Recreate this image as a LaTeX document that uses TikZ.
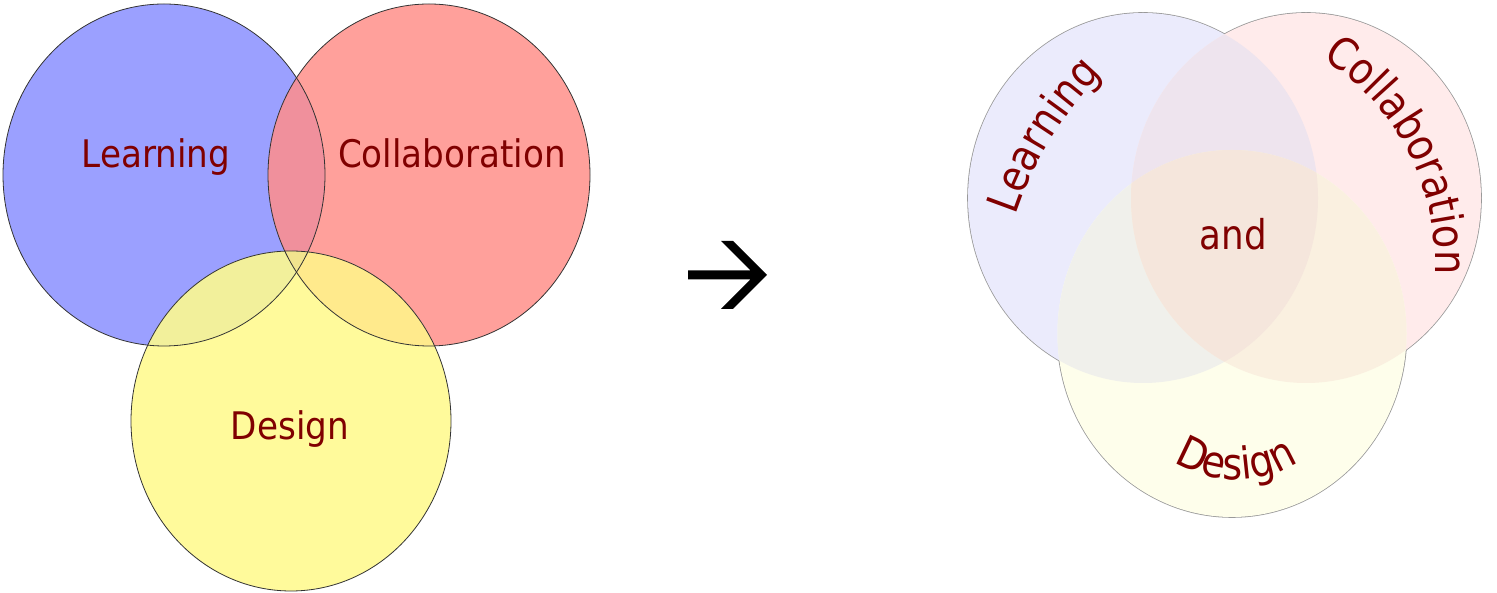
\documentclass[tikz,border=0pt]{standalone}
\usepackage{fontspec}
\usetikzlibrary{decorations.text}
\newfontfamily\vfont{DejaVu Sans}[FakeStretch=0.90]
\newfontfamily\wfont{DejaVu Sans}[FakeStretch=0.87]
\newcommand{\lfnt}{\vfont\fontsize{38pt}{42pt}\selectfont}
\newcommand{\rfnt}{\wfont\fontsize{41pt}{45pt}\selectfont}
\newcommand{\afnt}{\wfont\fontsize{44pt}{48pt}\selectfont}
\definecolor{dred}{HTML}{800000}
\definecolor{lB}{HTML}{9BA0FF}
\definecolor{lR}{HTML}{FFA09B}
\definecolor{lY}{HTML}{FFFA9B}
\definecolor{lBR}{HTML}{F0909C}
\definecolor{lBY}{HTML}{F2F09B}
\definecolor{lRY}{HTML}{FFEA8C}
\definecolor{lBRY}{HTML}{F2E48E}
\definecolor{rB}{HTML}{EBEBFC}
\definecolor{rR}{HTML}{FFEBEB}
\definecolor{rY}{HTML}{FEFEEB}
\definecolor{rBR}{HTML}{EEE4EE}
\definecolor{rBY}{HTML}{F0F0EB}
\definecolor{rRY}{HTML}{FAF0E0}
\definecolor{rBRY}{HTML}{F5E6DC}
\tikzset{
  lbl/.style={font=\lfnt, text=dred, inner sep=0pt, anchor=base},
  rlbl/.style={font=\rfnt, text=dred, inner sep=0pt, anchor=base},
  ledge/.style={draw=black!80, line width=0.8pt},
  redge/.style={draw=black!40, line width=1.6pt},
  arc text/.style={decorate, decoration={text along path, text align=center, text color=dred, text={|\afnt|#1}}}
}
\begin{document}
\begin{tikzpicture}[x=1pt,y=1pt]
\useasboundingbox (0,0) rectangle (1497,593);
% ---------- left Venn ----------
\fill[lB] (164,418) ellipse [x radius=161pt, y radius=171pt];
\fill[lR] (429,418) ellipse [x radius=161pt, y radius=171pt];
\fill[lY] (291,172) ellipse [x radius=160pt, y radius=170pt];
\begin{scope}
  \clip (164,418) ellipse [x radius=161pt, y radius=171pt];
  \fill[lBR] (429,418) ellipse [x radius=161pt, y radius=171pt];
  \fill[lBY] (291,172) ellipse [x radius=160pt, y radius=170pt];
\end{scope}
\begin{scope}
  \clip (429,418) ellipse [x radius=161pt, y radius=171pt];
  \fill[lRY] (291,172) ellipse [x radius=160pt, y radius=170pt];
\end{scope}
\begin{scope}
  \clip (164,418) ellipse [x radius=161pt, y radius=171pt];
  \clip (429,418) ellipse [x radius=161pt, y radius=171pt];
  \fill[lBRY] (291,172) ellipse [x radius=160pt, y radius=170pt];
\end{scope}
\draw[ledge] (164,418) ellipse [x radius=161pt, y radius=171pt];
\draw[ledge] (429,418) ellipse [x radius=161pt, y radius=171pt];
\draw[ledge] (291,172) ellipse [x radius=160pt, y radius=170pt];
\node[lbl] (learnL) at (156,425) {Learning};
\node[lbl] (collL) at (452,425) {Collaboration};
\node[lbl] (desL) at (290,153) {Design};
% ---------- arrow ----------
\fill[black] (688,322.5) -- (750.5,322.5) -- (721,352) -- (733,352) -- (767,318)
  -- (733,284) -- (721,284) -- (750.5,313.5) -- (688,313.5) -- cycle;
% ---------- right Venn ----------
\draw[redge] (1143,395) ellipse [x radius=175pt, y radius=185pt];
\draw[redge] (1306,395) ellipse [x radius=175pt, y radius=185pt];
\draw[redge] (1232,259.5) ellipse [x radius=174.5pt, y radius=183.5pt];
\fill[rB] (1143,395) ellipse [x radius=175pt, y radius=185pt];
\fill[rR] (1306,395) ellipse [x radius=175pt, y radius=185pt];
\fill[rY] (1232,259.5) ellipse [x radius=174.5pt, y radius=183.5pt];
\begin{scope}
  \clip (1143,395) ellipse [x radius=175pt, y radius=185pt];
  \fill[rBR] (1306,395) ellipse [x radius=175pt, y radius=185pt];
  \fill[rBY] (1232,259.5) ellipse [x radius=174.5pt, y radius=183.5pt];
\end{scope}
\begin{scope}
  \clip (1306,395) ellipse [x radius=175pt, y radius=185pt];
  \fill[rRY] (1232,259.5) ellipse [x radius=174.5pt, y radius=183.5pt];
\end{scope}
\begin{scope}
  \clip (1143,395) ellipse [x radius=175pt, y radius=185pt];
  \clip (1306,395) ellipse [x radius=175pt, y radius=185pt];
  \fill[rBRY] (1232,259.5) ellipse [x radius=174.5pt, y radius=183.5pt];
\end{scope}
\node[rlbl] (andR) at (1233.5,343) {and};
\path[arc text={Learning}] (1367,259) ++(175:371pt) arc[start angle=175, end angle=122, radius=371pt];
\path[arc text={Collaboration}] (1195,331) ++(82:240pt) arc[start angle=82, end angle=-27, radius=240pt];
\path[arc text={Design}] (1236,228) ++(215:115pt) arc[start angle=215, end angle=325, radius=115pt];
\end{tikzpicture}
\end{document}
